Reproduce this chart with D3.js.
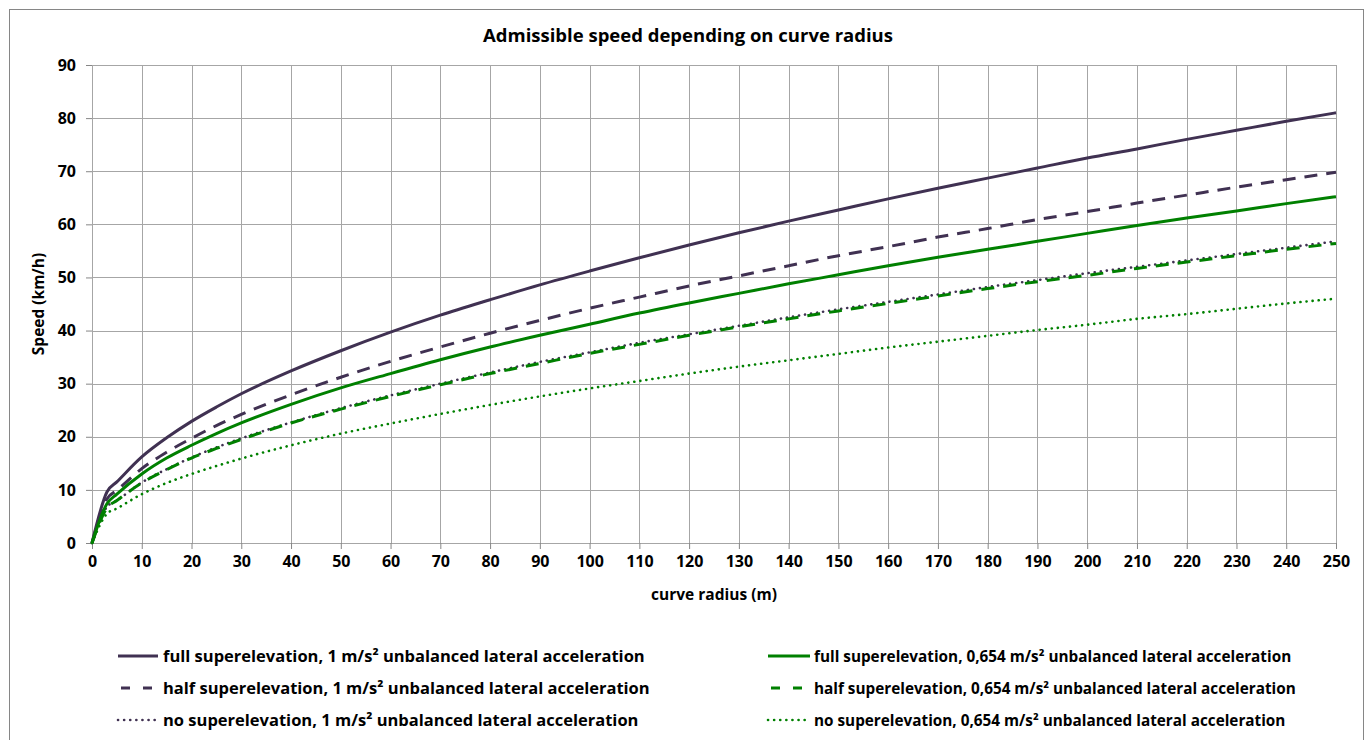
<!DOCTYPE html>
<html lang="en">
<head>
  <meta charset="UTF-8">
  <title>Admissible speed depending on curve radius</title>
  <style>
    body { margin: 0; background: #fff; }
    svg { display: block; font-family: "Open Sans", sans-serif; font-weight: bold; }
    .grid line { stroke: #a6a6a6; stroke-width: 1; }
    .axis path, .axis line { stroke: #868686; }
    .axis text { font-size: 16px; font-weight: bold; fill: #000; font-family: "Open Sans", sans-serif; }
  </style>
</head>
<body>
  <svg width="1370" height="740"></svg>
  <script src="https://d3js.org/d3.v7.min.js"></script>
  <script>
    // curve radius (m)
    const radius = [0, 3, 5, 10, 15, 20, 25, 30, 40, 50, 60, 70, 80, 90, 100, 110, 120, 130, 140, 150, 160, 170, 180, 190, 200, 210, 220, 230, 240, 250];

    // speed (km/h)
    const fullOne  = [0, 9.6, 11.5, 16.2, 19.8, 22.9, 25.6, 28.1, 32.4, 36.2, 39.7, 42.9, 45.8, 48.6, 51.2, 53.7, 56.1, 58.4, 60.6, 62.7, 64.8, 66.8, 68.7, 70.6, 72.5, 74.2, 76.0, 77.7, 79.4, 81.0];
    const halfOne  = [0, 8.3, 9.9, 14.0, 17.1, 19.7, 22.1, 24.2, 27.9, 31.2, 34.2, 36.9, 39.5, 41.9, 44.2, 46.3, 48.4, 50.3, 52.2, 54.1, 55.8, 57.6, 59.2, 60.9, 62.4, 64.0, 65.5, 67.0, 68.4, 69.8];
    const noOne    = [0, 6.8, 8.0, 11.4, 13.9, 16.1, 18.0, 19.7, 22.7, 25.4, 27.8, 30.0, 32.1, 34.1, 35.9, 37.7, 39.3, 40.9, 42.5, 44.0, 45.4, 46.8, 48.2, 49.5, 50.8, 52.0, 53.2, 54.4, 55.6, 56.8];
    const fullLow  = [0, 7.4, 9.2, 13.0, 16.0, 18.4, 20.6, 22.6, 26.1, 29.2, 31.9, 34.5, 36.9, 39.1, 41.2, 43.3, 45.2, 47.0, 48.8, 50.5, 52.2, 53.8, 55.3, 56.8, 58.3, 59.8, 61.2, 62.5, 63.9, 65.2];
    const halfLow  = [0, 6.6, 8.0, 11.3, 13.8, 16.0, 17.8, 19.5, 22.6, 25.2, 27.6, 29.8, 31.9, 33.8, 35.7, 37.4, 39.1, 40.7, 42.2, 43.7, 45.1, 46.5, 47.9, 49.2, 50.4, 51.7, 52.9, 54.1, 55.3, 56.4];
    const noLow    = [0, 5.5, 6.5, 9.2, 11.3, 13.0, 14.5, 15.9, 18.4, 20.6, 22.5, 24.3, 26.0, 27.6, 29.1, 30.5, 31.9, 33.2, 34.4, 35.6, 36.8, 37.9, 39.0, 40.1, 41.1, 42.2, 43.1, 44.1, 45.1, 46.0];

    const seriesNames = [
      "full superelevation, 1 m/s² unbalanced lateral acceleration",
      "half superelevation, 1 m/s² unbalanced lateral acceleration",
      "no superelevation, 1 m/s² unbalanced lateral acceleration",
      "full superelevation, 0,654 m/s² unbalanced lateral acceleration",
      "half superelevation, 0,654 m/s² unbalanced lateral acceleration",
      "no superelevation, 0,654 m/s² unbalanced lateral acceleration"
    ];
    const xTicks = d3.range(0, 251, 10);
    const yTicks = d3.range(0, 91, 10);

    const purple = "#403152", green = "#008000";
    const series = [
      { name: seriesNames[0], values: fullOne, color: purple, dash: null, width: 3 },
      { name: seriesNames[1], values: halfOne, color: purple, dash: "13,9", width: 3 },
      { name: seriesNames[2], values: noOne, color: purple, dash: "0.1,6", width: 2.6 },
      { name: seriesNames[3], values: fullLow, color: green, dash: null, width: 3 },
      { name: seriesNames[4], values: halfLow, color: green, dash: "13,9", width: 3 },
      { name: seriesNames[5], values: noLow, color: green, dash: "0.1,6", width: 2.6 }
    ];

    const svg = d3.select("svg");
    const margin = { left: 92, right: 1336, top: 65, bottom: 543 };

    // outer chart frame
    svg.append("rect")
      .attr("x", 9.5).attr("y", 9.5)
      .attr("width", 1354).attr("height", 760)
      .attr("fill", "none").attr("stroke", "#868686");

    const x = d3.scaleLinear().domain([0, 250]).range([margin.left, margin.right]);
    const y = d3.scaleLinear().domain([0, 90]).range([margin.bottom, margin.top]);

    // grid
    const grid = svg.append("g").attr("class", "grid");
    grid.selectAll(".v").data(xTicks).enter().append("line")
      .attr("x1", d => Math.round(x(d)) + 0.5).attr("x2", d => Math.round(x(d)) + 0.5)
      .attr("y1", margin.top).attr("y2", margin.bottom);
    grid.selectAll(".h").data(yTicks).enter().append("line")
      .attr("y1", d => Math.round(y(d)) + 0.5).attr("y2", d => Math.round(y(d)) + 0.5)
      .attr("x1", margin.left).attr("x2", margin.right);

    // axes
    svg.append("g").attr("class", "axis")
      .attr("transform", `translate(0,${margin.bottom})`)
      .call(d3.axisBottom(x).tickValues(xTicks).tickSize(6).tickPadding(7).tickSizeOuter(0))
      .call(g => g.select(".domain").remove());
    svg.append("g").attr("class", "axis")
      .attr("transform", `translate(${margin.left},0)`)
      .call(d3.axisLeft(y).tickValues(yTicks).tickSize(6).tickPadding(10).tickSizeOuter(0))
      .call(g => g.select(".domain").remove());

    // lines
    const line = d3.line()
      .x((d, i) => x(radius[i]))
      .y(d => y(d))
      .curve(d3.curveMonotoneX);

    svg.append("g").selectAll("path").data(series).enter().append("path")
      .attr("d", d => line(d.values))
      .attr("fill", "none")
      .attr("stroke", d => d.color)
      .attr("stroke-width", d => d.width)
      .attr("stroke-linecap", d => d.dash && d.dash.startsWith("0.1") ? "round" : "butt")
      .attr("stroke-dasharray", d => d.dash);

    // titles
    svg.append("text")
      .attr("x", 688).attr("y", 42)
      .attr("text-anchor", "middle")
      .attr("font-size", 18.5)
      .text("Admissible speed depending on curve radius");

    svg.append("text")
      .attr("x", (margin.left + margin.right) / 2).attr("y", 600)
      .attr("text-anchor", "middle")
      .attr("font-size", 15.5)
      .text("curve radius (m)");

    svg.append("text")
      .attr("transform", `translate(44,${(margin.top + margin.bottom) / 2}) rotate(-90)`)
      .attr("text-anchor", "middle")
      .attr("font-size", 15.5)
      .text("Speed (km/h)");

    // legend (right column entries are set a little smaller, as in the original)
    const legend = svg.append("g").selectAll("g").data(series).enter().append("g")
      .attr("transform", (d, i) => `translate(${i < 3 ? 118 : 768},${656 + (i % 3) * 32})`);
    legend.append("line")
      .attr("x1", 0).attr("x2", (d, i) => i < 3 ? 40 : 42)
      .attr("stroke", d => d.color)
      .attr("stroke-width", d => d.width)
      .attr("stroke-linecap", d => d.dash && d.dash.startsWith("0.1") ? "round" : "butt")
      .attr("stroke-dasharray", d => d.dash ? (d.dash.startsWith("0.1") ? "0.1,6" : "9,13") : null)
      .attr("stroke-dashoffset", d => d.dash && !d.dash.startsWith("0.1") ? -3 : 0);
    legend.append("text")
      .attr("x", (d, i) => i < 3 ? 45 : 46).attr("y", 6)
      .attr("font-size", (d, i) => i < 3 ? 16.5 : 15.3)
      .text(d => d.name);
  </script>
</body>
</html>
